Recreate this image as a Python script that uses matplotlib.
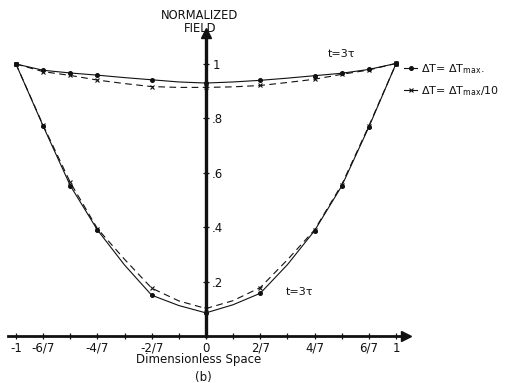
import numpy as np
import matplotlib
matplotlib.use("Agg")
import matplotlib.pyplot as plt
from matplotlib.lines import Line2D

# Dimensionless space positions (in sevenths) and normalized field values
x_sevenths = list(range(-7, 8))
x_pos = np.array(x_sevenths) / 7.0

# upper pair of curves (t = 3 tau)
upper_dtmax = [1.000, 0.977, 0.967, 0.959, 0.950, 0.942, 0.934, 0.930,
               0.934, 0.940, 0.948, 0.957, 0.966, 0.980, 1.002]
upper_dtmax10 = [1.000, 0.972, 0.958, 0.941, 0.928, 0.917, 0.914, 0.914,
                 0.916, 0.921, 0.932, 0.944, 0.962, 0.978, 1.002]

# lower pair of curves (t = 3 tau)
lower_dtmax = [1.000, 0.772, 0.553, 0.390, 0.261, 0.150, 0.112, 0.085,
               0.115, 0.157, 0.262, 0.387, 0.551, 0.768, 1.000]
lower_dtmax10 = [1.000, 0.775, 0.565, 0.395, 0.282, 0.176, 0.129, 0.101,
                 0.130, 0.178, 0.280, 0.390, 0.556, 0.772, 1.000]

# indices that carry plotted symbols
marked = [0, 1, 2, 3, 5, 7, 9, 11, 12, 13, 14]

x_tick_labels = ['-1', '-6/7', '', '-4/7', '', '-2/7', '', '0',
                 '', '2/7', '', '4/7', '', '6/7', '1']
y_ticks = [0.2, 0.4, 0.6, 0.8, 1.0]
y_tick_labels = ['.2', '.4', '.6', '.8', '1']

plt.rcParams['font.family'] = ['DejaVu Sans']
ink = '#111111'

fig = plt.figure(figsize=(5.08, 3.83), dpi=100)
ax = fig.add_axes([8 / 508, 47 / 383, 398 / 508, 303 / 383])
ax.set_xlim(-1.042, 1.053)
ax.set_ylim(0, 1.114)

dash = (0, (6, 4))
solid_kw = dict(color=ink, lw=0.8, marker='o', ms=2.6, mfc=ink, mec=ink,
                markevery=marked)
dash_kw = dict(color=ink, lw=0.8, ls=dash, marker='x', ms=3.5, mew=0.8,
               markevery=marked)

ax.plot(x_pos, upper_dtmax, **solid_kw)
ax.plot(x_pos, upper_dtmax10, **dash_kw)
ax.plot(x_pos, lower_dtmax, **solid_kw)
ax.plot(x_pos, lower_dtmax10, **dash_kw)

# axes drawn as crossing lines through the origin
for side in ('top', 'right'):
    ax.spines[side].set_visible(False)
ax.spines['left'].set_position(('data', 0))
ax.spines['left'].set_linewidth(2.4)
ax.spines['bottom'].set_linewidth(2.0)
ax.spines['left'].set_color(ink)
ax.spines['bottom'].set_color(ink)
ax.plot(1, 0, marker='>', ms=7, color=ink, transform=ax.get_yaxis_transform(),
        clip_on=False)
ax.plot(0, 1, marker='^', ms=7, color=ink, transform=ax.get_xaxis_transform(),
        clip_on=False)

ax.set_xticks(x_pos, x_tick_labels)
ax.tick_params(axis='x', direction='inout', length=5, width=0.9, pad=1.5,
               labelsize=8.5, colors=ink)
ax.set_yticks(y_ticks, y_tick_labels)
ax.tick_params(axis='y', direction='inout', length=5, width=0.9, pad=-7,
               labelsize=8.5, colors=ink)
for lab in ax.get_yticklabels():
    lab.set_horizontalalignment('left')

ax.text(0.716, 1.037, 't=3τ', fontsize=8, ha='center', va='center', color=ink)
ax.text(0.49, 0.162, 't=3τ', fontsize=8, ha='center', va='center', color=ink)

fig.text(200 / 508, 1 - 22 / 383, 'NORMALIZED\nFIELD', ha='center', va='center',
         fontsize=8.3, linespacing=1.0, color=ink)
fig.text(199 / 508, 1 - 360 / 383, 'Dimensionless Space', ha='center',
         va='center', fontsize=8.5, color=ink)
fig.text(203 / 508, 1 - 377 / 383, '(b)', ha='center', va='center',
         fontsize=8.5, color=ink)

handles = [Line2D([], [], color=ink, lw=0.8, marker='o', ms=2.6),
           Line2D([], [], color=ink, lw=0.8, marker='x', ms=3.5, mew=0.8)]
labels = [r'ΔT= ΔT$_{\rm max}$.', r'ΔT= ΔT$_{\rm max}$/10']
fig.legend(handles, labels, loc='upper left',
           bbox_to_anchor=(404 / 508, 1 - 62 / 383), frameon=False,
           fontsize=8, handlelength=1.2, handletextpad=0.3,
           labelspacing=0.75, borderpad=0, borderaxespad=0, labelcolor=ink)

fig.savefig('out.png', dpi=100)
